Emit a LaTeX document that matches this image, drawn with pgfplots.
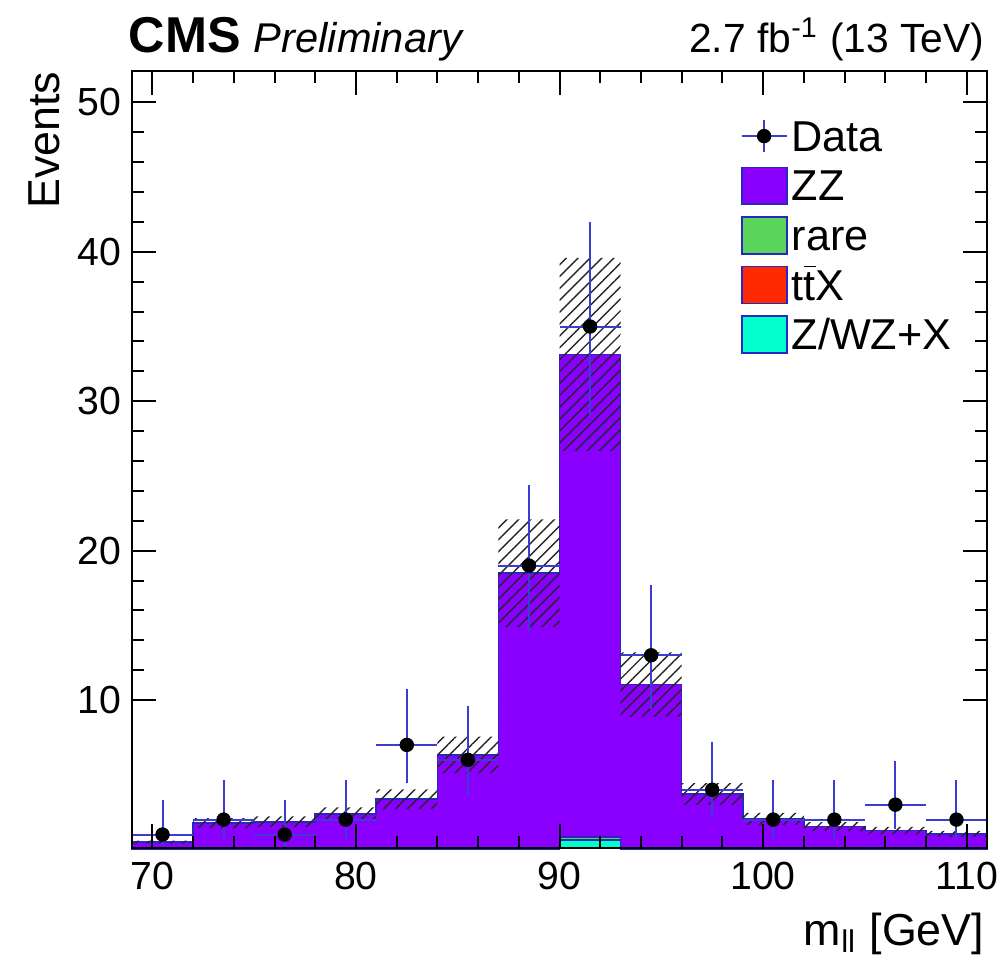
\documentclass[border=0pt]{standalone}
\usepackage{fontspec}
\setmainfont{Liberation Sans}
\usepackage{pgfplots}
\usepackage{pgfplotstable}
\pgfplotsset{compat=1.18}
\usepgfplotslibrary{fillbetween}
\usetikzlibrary{patterns.meta}

\definecolor{zzcol}{RGB}{137,0,255}
\definecolor{rarecol}{RGB}{90,212,90}
\definecolor{ttxcol}{RGB}{255,42,0}
\definecolor{zwzcol}{RGB}{0,255,204}
\definecolor{rootblue}{RGB}{40,40,190}
\definecolor{errblue}{RGB}{60,60,210}

% stacked MC, cumulative tops per bin (left edge); last row closes the last bin
\pgfplotstableread{
lo   tot    rare   ttx    zwz    bandlo bandup
69   0.50   0.02   0.01   0.01   0.40   0.60
72   1.76   0.02   0.01   0.01   1.42   2.10
75   1.85   0.02   0.01   0.01   1.49   2.21
78   2.36   0.03   0.01   0.01   1.90   2.82
81   3.37   0.03   0.01   0.01   2.71   4.03
84   6.32   0.06   0.02   0.02   5.09   7.55
87   18.49  0.13   0.03   0.03   14.88  22.10
90   33.14  0.82   0.64   0.64   26.68  39.60
93   11.04  0.06   0.02   0.02   8.89   13.19
96   3.72   0.03   0.01   0.01   2.99   4.45
99   2.05   0.02   0.01   0.01   1.65   2.45
102  1.53   0.02   0.01   0.01   1.23   1.83
105  1.26   0.02   0.01   0.01   1.01   1.51
108  1.04   0.02   0.01   0.01   0.84   1.24
111  1.04   0.02   0.01   0.01   0.84   1.24
}\mc

% data with Poisson (Garwood) intervals
\pgfplotstableread{
x      y    ex   eyp    eym
70.5   1    1.5  2.300  0.827
73.5   2    1.5  2.638  1.292
76.5   1    1.5  2.300  0.827
79.5   2    1.5  2.638  1.292
82.5   7    1.5  3.770  2.581
85.5   6    1.5  3.584  2.380
88.5   19   1.5  5.400  4.420
91.5   35   1.5  6.980  5.920
94.5   13   1.5  4.730  3.590
97.5   4    1.5  3.163  1.914
100.5  2    1.5  2.638  1.292
103.5  2    1.5  2.638  1.292
106.5  3    1.5  2.918  1.633
109.5  2    1.5  2.638  1.292
}\data

\begin{document}
\begin{tikzpicture}
\begin{axis}[
    set layers,
    at={(0,0)}, anchor=south west,
    scale only axis,
    width=213.75pt, height=194.25pt,
    xmin=69, xmax=111,
    ymin=0.1, ymax=52.1,
    xtick={70,80,...,110},
    ytick={10,20,...,50},
    minor x tick num=4,
    minor y tick num=4,
    tick align=inside,
    tick pos=both,
    major tick length=6pt,
    minor tick length=3pt,
    every tick/.style={black, line width=0.5pt},
    axis line style={line width=0.6pt},
    /pgf/number format/assume math mode=true,
    ticklabel style={font=\fontsize{9.8}{11}\selectfont},
    yticklabel style={xshift=0.8pt},
    axis on top,
    legend cell align=left,
    legend style={at={(rel axis cs:0.711,0.943)}, anchor=north west,
        draw=none, fill=none, inner sep=0pt, row sep=2.4pt,
        font=\fontsize{10.8}{12}\selectfont,
        nodes={inner sep=1pt, text height=7.8pt, text depth=0.2pt}},
]
% MC stack, drawn from the top layer down, kept below the hatched band
\addplot[on layer=axis background, const plot, fill=zzcol, draw=rootblue, line width=0.4pt, forget plot]
    table[x=lo, y=tot] {\mc} \closedcycle;
\addplot[on layer=axis background, const plot, fill=rarecol, draw=rootblue, line width=0.4pt, forget plot]
    table[x=lo, y=rare] {\mc} \closedcycle;
\addplot[on layer=axis background, const plot, fill=ttxcol, draw=rootblue, line width=0.4pt, forget plot]
    table[x=lo, y=ttx] {\mc} \closedcycle;
\addplot[on layer=axis background, const plot, fill=zwzcol, draw=rootblue, line width=0.4pt, forget plot]
    table[x=lo, y=zwz] {\mc} \closedcycle;

% uncertainty band
\addplot[name path=bup, const plot, draw=none, forget plot] table[x=lo, y=bandup] {\mc};
\addplot[name path=blo, const plot, draw=none, forget plot] table[x=lo, y=bandlo] {\mc};
\addplot[pattern={Lines[angle=45, distance=2.1pt, line width=0.35pt]},
    pattern color=black!85, draw=none, forget plot] fill between[of=bup and blo];

% data
\addplot[only marks, mark=*, mark size=1.6pt, black, forget plot,
    error bars/.cd, x dir=both, x explicit, y dir=both, y explicit,
    error bar style={errblue, line width=0.5pt}, error mark=none]
    table[x=x, y=y, x error=ex, y error plus=eyp, y error minus=eym] {\data};

\addlegendimage{legend image code/.code={
    \draw[errblue, line width=0.5pt] (0pt,0pt) -- (11.25pt,0pt);
    \draw[errblue, line width=0.5pt] (5.6pt,-4pt) -- (5.6pt,4pt);
    \fill[black] (5.6pt,0pt) circle (1.6pt);}}
\addlegendentry{Data}
\addlegendimage{legend image code/.code={
    \draw[fill=zzcol, draw=rootblue, line width=0.4pt] (0pt,-4.6pt) rectangle (11.25pt,4.6pt);}}
\addlegendentry{ZZ}
\addlegendimage{legend image code/.code={
    \draw[fill=rarecol, draw=rootblue, line width=0.4pt] (0pt,-4.6pt) rectangle (11.25pt,4.6pt);}}
\addlegendentry{rare}
\addlegendimage{legend image code/.code={
    \draw[fill=ttxcol, draw=rootblue, line width=0.4pt] (0pt,-4.6pt) rectangle (11.25pt,4.6pt);}}
\addlegendentry{t$\overline{\mbox{t}}$X}
\addlegendimage{legend image code/.code={
    \draw[fill=zwzcol, draw=rootblue, line width=0.4pt] (0pt,-4.6pt) rectangle (11.25pt,4.6pt);}}
\addlegendentry{Z/WZ+X}
\end{axis}

\node[anchor=base west, inner sep=0pt, font=\fontsize{12.6}{14}\selectfont\bfseries]
    at ([xshift=-1pt, yshift=4.75pt]current axis.north west) {CMS};
\node[anchor=base west, inner sep=0pt, font=\fontsize{10.4}{12}\selectfont\itshape]
    at ([xshift=30.25pt, yshift=4.75pt]current axis.north west) {Preliminary};
\node[anchor=base east, inner sep=0pt, font=\fontsize{10.2}{12}\selectfont]
    at ([xshift=-0.5pt, yshift=4.75pt]current axis.north east) {2.7 fb\textsuperscript{-1} (13 TeV)};
\node[anchor=base east, inner sep=0pt, font=\fontsize{11.2}{13}\selectfont]
    at ([xshift=-0.5pt, yshift=-24.25pt]current axis.south east) {m\textsubscript{ll} [GeV]};
\node[anchor=base east, rotate=90, inner sep=0pt, font=\fontsize{11.2}{13}\selectfont]
    at ([xshift=-18pt]current axis.north west) {Events};

\pgfresetboundingbox
\path[use as bounding box] (-33pt,-26.75pt) rectangle (219pt,212pt);
\end{tikzpicture}
\end{document}
